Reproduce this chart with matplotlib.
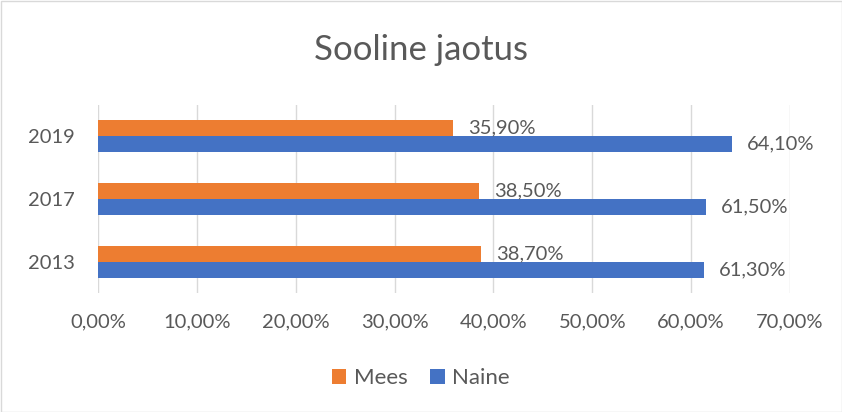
import matplotlib
matplotlib.use("Agg")
import matplotlib.pyplot as plt
import numpy as np
from matplotlib.patches import Rectangle

categories = ["2013", "2017", "2019"]
mees = [38.7, 38.5, 35.9]
naine = [61.3, 61.5, 64.1]
xticks = [0, 10, 20, 30, 40, 50, 60, 70]

plt.rcParams['font.family'] = ['Lato', 'DejaVu Sans']
TXT = '#595959'
C_MEES = '#ED7D31'
C_NAINE = '#4472C4'

fig = plt.figure(figsize=(8.42, 4.12), dpi=100)
ax = fig.add_axes([98/842, 1-293/412, (790-98)/842, (293-105)/412])

y = np.arange(len(categories))
h = 0.255
bm = ax.barh(y + h/2, mees, height=h, color=C_MEES, label='Mees', zorder=3)
bn = ax.barh(y - h/2, naine, height=h, color=C_NAINE, label='Naine', zorder=3)

def fmt(v):
    return f"{v:.2f}%".replace('.', ',')

FS = 14.5
for rect, v in zip(bm, mees):
    ax.annotate(fmt(v), (v, rect.get_y() + rect.get_height()/2), xytext=(11, 0),
                textcoords='offset points', ha='left', va='center', fontsize=FS, color=TXT, zorder=4)
for rect, v in zip(bn, naine):
    ax.annotate(fmt(v), (v, rect.get_y() + rect.get_height()/2), xytext=(11, 0),
                textcoords='offset points', ha='left', va='center', fontsize=FS, color=TXT, zorder=4)

ax.set_xlim(0, 70)
ax.set_ylim(-0.5, 2.5)
ax.set_xticks(xticks)
ax.set_xticklabels([f"{t:.2f}%".replace('.', ',') for t in xticks])
ax.set_yticks(y)
ax.set_yticklabels(categories)
ax.tick_params(axis='both', length=0, labelsize=FS, labelcolor=TXT)
ax.tick_params(axis='x', pad=15)
ax.tick_params(axis='y', pad=17)
ax.xaxis.grid(True, color='#d9d9d9', linewidth=1, zorder=0)
for s in ax.spines.values():
    s.set_visible(False)

fig.text(0.5, 1-50/412, "Sooline jaotus", ha='center', va='center', fontsize=25, color=TXT)

handles = [bm, bn]
fig.legend(handles, ['Mees', 'Naine'], loc='center', bbox_to_anchor=(0.5, 1-378/412), ncol=2,
           frameon=False, fontsize=16, labelcolor=TXT, handlelength=0.65, handleheight=0.65,
           columnspacing=1.0, handletextpad=0.35)

fig.patches.append(Rectangle((0.5/842, 0.5/412), 1-1/842, 1-1/412, transform=fig.transFigure,
                             fill=False, edgecolor='#d9d9d9', linewidth=1))

fig.savefig('out.png', dpi=100)
